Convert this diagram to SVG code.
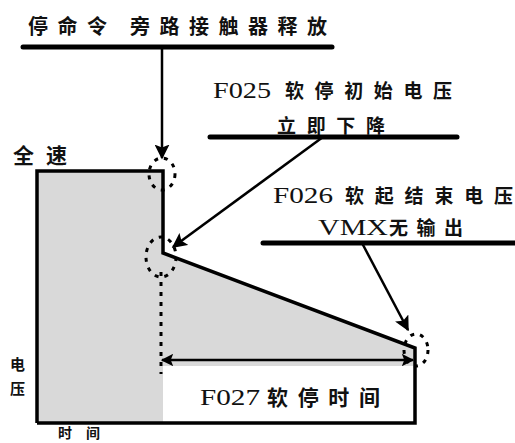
<svg xmlns="http://www.w3.org/2000/svg" width="515" height="443" viewBox="0 0 515 443">
<defs>
<marker id="ah" viewBox="0 0 10 10" refX="9" refY="5" markerWidth="6" markerHeight="6" markerUnits="strokeWidth" orient="auto">
<path d="M0,0 L10,5 L0,10 L2,5 Z" fill="#000"/>
</marker>
<marker id="ah2" viewBox="0 0 10 10" refX="9" refY="5" markerWidth="5" markerHeight="5" markerUnits="strokeWidth" orient="auto-start-reverse">
<path d="M0,0 L10,5 L0,10 L2,5 Z" fill="#000"/>
</marker>
<style>
.t{font-family:"Noto Sans CJK SC","Liberation Serif",serif;font-weight:700;fill:#111}
.l{font-family:"Liberation Serif",serif;font-weight:400;fill:#111}
.bar{stroke:#000;stroke-width:5;stroke-linecap:round;fill:none}
.arr{stroke:#000;stroke-width:2.5;fill:none}
.out{stroke:#000;stroke-width:3.5;fill:none;stroke-linejoin:miter}
.dot{stroke:#000;stroke-width:3;fill:none;stroke-dasharray:4 6}
</style>
</defs>
<rect width="515" height="443" fill="#fff"/>
<g id="area">
<path d="M37,171 L163,171 L163,253 L415,348 L415,366 L163,366 L163,423 L37,423 Z" fill="#d9d9d9"/>
<path class="out" d="M37,423 L37,171 L163,171 L163,253 L415,348 L415,423 L37,423"/>
<line x1="161" y1="272" x2="161" y2="374" class="dot" stroke-dasharray="5 4"/>
</g>
<g id="ellipses">
<ellipse cx="162" cy="174" rx="13" ry="16" class="dot"/>
<ellipse cx="161" cy="257" rx="15" ry="20" class="dot"/>
<ellipse cx="416" cy="350" rx="12" ry="16" class="dot"/>
</g>
<g id="node-stop">
<text class="t" x="28" y="34" font-size="20" textLength="79" lengthAdjust="spacing">停命令</text>
<text class="t" x="130" y="34" font-size="20" textLength="197" lengthAdjust="spacing">旁路接触器释放</text>
<line class="bar" x1="23" y1="47" x2="332" y2="47"/>
</g>
<g id="node-f025">
<text class="l" x="213" y="98" font-size="23" textLength="58" lengthAdjust="spacingAndGlyphs">F025</text>
<text class="t" x="285" y="98" font-size="19" textLength="167" lengthAdjust="spacing">软停初始电压</text>
<text class="t" x="277" y="133" font-size="19" textLength="108" lengthAdjust="spacing">立即下降</text>
<line class="bar" x1="210" y1="137" x2="457" y2="137"/>
</g>
<g id="node-f026">
<text class="l" x="273" y="203" font-size="23" textLength="60" lengthAdjust="spacingAndGlyphs">F026</text>
<text class="t" x="345" y="203" font-size="19" textLength="168" lengthAdjust="spacing">软起结束电压</text>
<text class="l" x="318" y="235" font-size="23" textLength="70" lengthAdjust="spacingAndGlyphs">VMX</text>
<text class="t" x="389" y="235" font-size="19" textLength="74" lengthAdjust="spacing">无输出</text>
<line class="bar" x1="263" y1="243" x2="518" y2="243"/>
</g>
<g id="node-f027">
<text class="l" x="200" y="405" font-size="24" textLength="60" lengthAdjust="spacingAndGlyphs">F027</text>
<text class="t" x="267" y="405" font-size="21" textLength="113" lengthAdjust="spacing">软停时间</text>
</g>
<g id="labels">
<text class="t" x="13" y="163" font-size="21" textLength="54" lengthAdjust="spacing">全速</text>
<text class="t" x="10" y="370" font-size="15">电</text>
<text class="t" x="10" y="394" font-size="15">压</text>
<text class="t" x="58" y="438" font-size="14" textLength="42" lengthAdjust="spacing">时间</text>
</g>
<g id="connectors">
<line class="arr" x1="162" y1="47" x2="162" y2="158" marker-end="url(#ah)"/>
<line class="arr" x1="323" y1="137" x2="173" y2="247" marker-end="url(#ah)"/>
<line class="arr" x1="362" y1="243" x2="408" y2="330" marker-end="url(#ah)"/>
<line class="arr" x1="162" y1="360" x2="413" y2="360" marker-start="url(#ah2)" marker-end="url(#ah2)"/>
</g>
</svg>
